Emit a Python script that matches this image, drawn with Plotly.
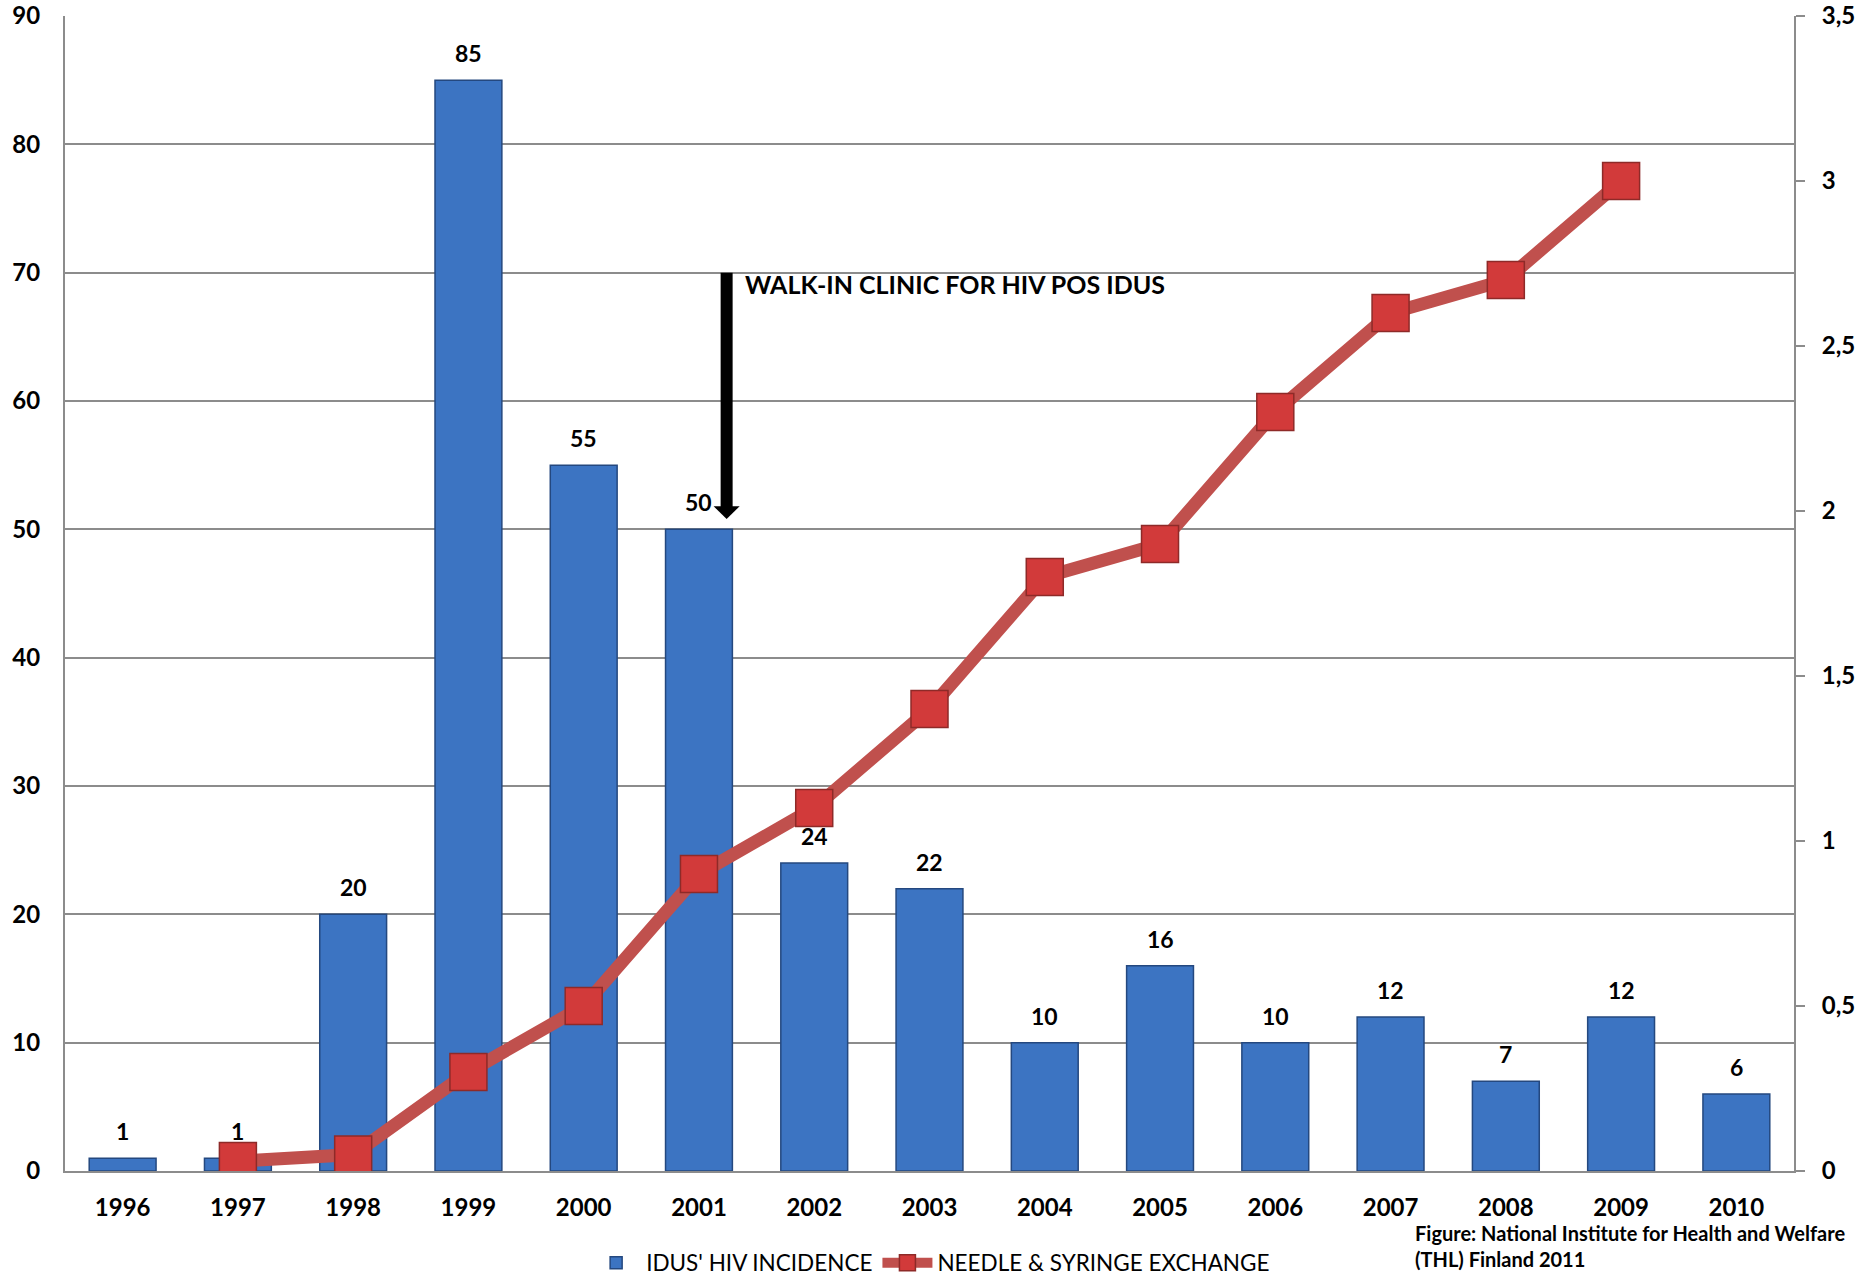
import plotly.graph_objects as go

years = ["1996", "1997", "1998", "1999", "2000", "2001", "2002", "2003",
         "2004", "2005", "2006", "2007", "2008", "2009", "2010"]
hiv_incidence = [1, 1, 20, 85, 55, 50, 24, 22, 10, 16, 10, 12, 7, 12, 6]
nse_years = ["1997", "1998", "1999", "2000", "2001", "2002", "2003",
             "2004", "2005", "2006", "2007", "2008", "2009"]
nse_values = [0.03, 0.05, 0.3, 0.5, 0.9, 1.1, 1.4, 1.8, 1.9, 2.3, 2.6, 2.7, 3.0]

left_ticks = list(range(0, 91, 10))
right_ticks = [0, 0.5, 1, 1.5, 2, 2.5, 3, 3.5]
right_ticktext = ["0", "0,5", "1", "1,5", "2", "2,5", "3", "3,5"]

clinic_year_index = 5.24   # position between categories (2001 + offset)
clinic_from = 70
clinic_to = 50.8
clinic_text = "WALK-IN CLINIC FOR HIV POS IDUS"

FONT = "Lato"
GRID = "#8c8c8c"

fig = go.Figure()
fig.add_trace(go.Bar(
    x=years, y=hiv_incidence, name="IDUS' HIV INCIDENCE",
    width=0.58,
    marker=dict(color="#3C74C2", line=dict(color="#24487F", width=1.5)),
    yaxis="y",
))
fig.add_trace(go.Scatter(
    x=nse_years, y=nse_values, name="NEEDLE & SYRINGE EXCHANGE",
    mode="lines+markers", yaxis="y2",
    line=dict(color="#C0504D", width=13),
    marker=dict(symbol="square", size=37, color="#D23A3A",
                line=dict(color="#8E2A28", width=1.5)),
))

# bar value labels
for i, v in enumerate(hiv_incidence):
    fig.add_annotation(x=i, y=v, xref="x", yref="y", text=f"<b>{v}</b>",
                       showarrow=False, yshift=27, yanchor="middle",
                       font=dict(family=FONT, size=23, color="black"))

# arrow: shaft + head
head_h = 1.0
head_w = 0.113
fig.add_shape(type="line", xref="x", yref="y",
              x0=clinic_year_index, x1=clinic_year_index,
              y0=clinic_from, y1=clinic_to + head_h * 0.9,
              line=dict(color="black", width=12))
fig.add_shape(type="path", xref="x", yref="y",
              path=(f"M {clinic_year_index - head_w},{clinic_to + head_h} "
                    f"L {clinic_year_index + head_w},{clinic_to + head_h} "
                    f"L {clinic_year_index},{clinic_to} Z"),
              fillcolor="black", line=dict(color="black", width=0))
fig.add_annotation(x=clinic_year_index + 0.14, y=clinic_from - 0.9, xref="x", yref="y",
                   text=f"<b>{clinic_text}</b>", showarrow=False,
                   xanchor="left", yanchor="middle",
                   font=dict(family=FONT, size=25, color="black"))

fig.add_annotation(x=0.7797, y=-0.0416, xref="paper", yref="paper",
                   text="<b>Figure: National Institute for Health and Welfare<br>(THL) Finland 2011</b>",
                   showarrow=False, xanchor="left", yanchor="top", align="left",
                   font=dict(family=FONT, size=20, color="black"))

fig.update_layout(
    width=1865, height=1282,
    margin=dict(l=65, r=71, t=16, b=111, autoexpand=False),
    plot_bgcolor="white", paper_bgcolor="white",
    font=dict(family=FONT, color="black"),
    bargap=0.42,
    showlegend=True,
    legend=dict(orientation="h", xref="container", yref="container",
                x=0.499, xanchor="center", y=1 - 1263 / 1282, yanchor="middle",
                font=dict(family=FONT, size=22.5, color="black"),
                itemwidth=50, tracegroupgap=40),
    xaxis=dict(type="category", categoryorder="array", categoryarray=years,
               range=[-0.5, 14.5], showline=True, linecolor=GRID, linewidth=2,
               ticks="", showgrid=False, automargin=False,
               tickfont=dict(family=FONT, size=24, color="black", weight="bold"),
               ticklabelstandoff=14),
    yaxis=dict(range=[0, 90], tickvals=left_ticks, showgrid=True, gridcolor=GRID,
               gridwidth=2, showline=True, linecolor=GRID, linewidth=2,
               zeroline=False, ticks="", automargin=False,
               tickfont=dict(family=FONT, size=24, color="black", weight="bold"),
               ticklabelstandoff=18),
    yaxis2=dict(range=[0, 3.5], overlaying="y", side="right", tickvals=right_ticks,
                ticktext=right_ticktext, showgrid=False, showline=True,
                linecolor=GRID, linewidth=2, zeroline=False, automargin=False,
                ticks="outside", ticklen=9, tickcolor=GRID, tickwidth=2,
                tickfont=dict(family=FONT, size=24, color="black", weight="bold"),
                ticklabelstandoff=12),
)

fig.write_html("out.html")
